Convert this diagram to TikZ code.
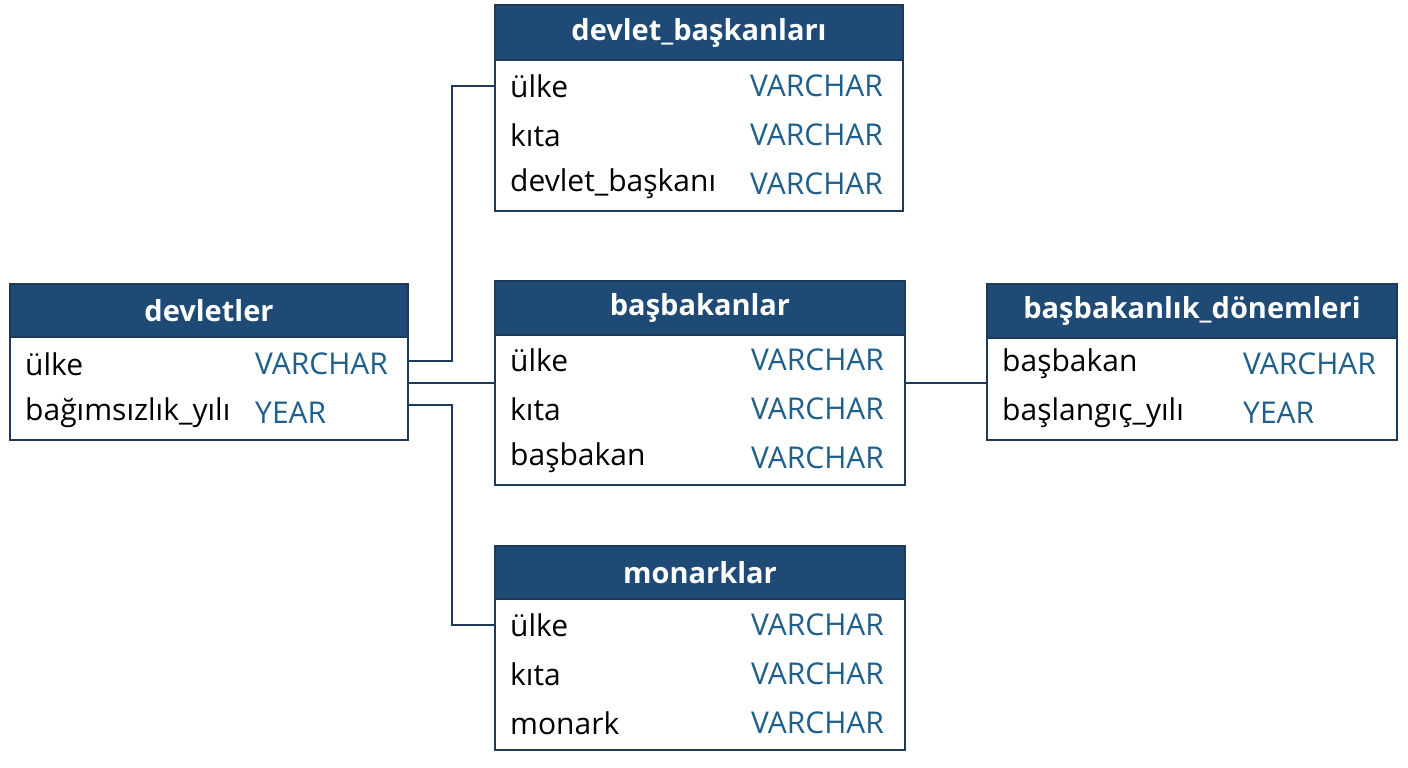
\documentclass[tikz,border=0pt]{standalone}
\usepackage{fontspec}
\setmainfont{Open Sans}
\usetikzlibrary{positioning}
\definecolor{hdrblue}{HTML}{1F4A75}
\definecolor{edgeblue}{HTML}{1E3A5A}
\definecolor{typeblue}{HTML}{1F5F8B}
\tikzset{
	hdr/.style={draw=edgeblue,line width=2.5pt,fill=hdrblue,text=white,
		font=\fontsize{29}{32}\selectfont\bfseries,inner sep=0pt},
	body/.style={draw=edgeblue,line width=2.5pt,fill=white,inner sep=0pt},
	fld/.style={anchor=west,inner sep=0pt,font=\fontsize{30}{33}\selectfont},
	typ/.style={fld,text=typeblue},
	link/.style={draw=edgeblue,line width=2.5pt}
}
\newcommand{\dbbox}[6]{% name, x1, y1, x2, yhdr, y2
	\path[body] (#2,#3) rectangle (#4,#6);
	\path[hdr] (#2,#3) rectangle (#4,#5);
	\coordinate (#1-nw) at (#2,#3);
	\coordinate (#1-se) at (#4,#6);
}
\begin{document}
\begin{tikzpicture}[x=1pt,y=-1pt]
	\useasboundingbox (0,0) rectangle (1408,768);
	% tables
	\dbbox{dbk}{495}{5}{903}{60}{211}
	\node[hdr,draw=none,fill=none] (dbk) at (699,33) {devlet\_başkanları};
	\node[fld] (dbk1) at (510,86) {ülke};
	\node[fld] (dbk2) at (510,135) {kıta};
	\node[fld] (dbk3) at (510,184) {devlet\_başkanı};
	\node[typ] (dbkt1) at (750,86) {VARCHAR};
	\node[typ] (dbkt2) at (750,135) {VARCHAR};
	\node[typ] (dbkt3) at (750,184) {VARCHAR};

	\dbbox{dev}{10}{284}{408}{337}{440}
	\node[hdr,draw=none,fill=none] (dev) at (209,311) {devletler};
	\node[fld] (dev1) at (25,364) {ülke};
	\node[fld] (dev2) at (25,413) {bağımsızlık\_yılı};
	\node[typ] (devt1) at (255,364) {VARCHAR};
	\node[typ] (devt2) at (255,413) {YEAR};

	\dbbox{bb}{495}{281}{905}{335}{485}
	\node[hdr,draw=none,fill=none] (bb) at (700,308) {başbakanlar};
	\node[fld] (bb1) at (510,360) {ülke};
	\node[fld] (bb2) at (510,409) {kıta};
	\node[fld] (bb3) at (510,458) {başbakan};
	\node[typ] (bbt1) at (751,360) {VARCHAR};
	\node[typ] (bbt2) at (751,409) {VARCHAR};
	\node[typ] (bbt3) at (751,458) {VARCHAR};

	\dbbox{bd}{987}{284}{1397}{338}{440}
	\node[hdr,draw=none,fill=none] (bd) at (1192,311) {başbakanlık\_dönemleri};
	\node[fld] (bd1) at (1002,364) {başbakan};
	\node[fld] (bd2) at (1002,413) {başlangıç\_yılı};
	\node[typ] (bdt1) at (1243,364) {VARCHAR};
	\node[typ] (bdt2) at (1243,413) {YEAR};

	\dbbox{mon}{495}{546}{905}{599}{750}
	\node[hdr,draw=none,fill=none] (mon) at (700,573) {monarklar};
	\node[fld] (mon1) at (510,625) {ülke};
	\node[fld] (mon2) at (510,674) {kıta};
	\node[fld] (mon3) at (510,723) {monark};
	\node[typ] (mont1) at (751,625) {VARCHAR};
	\node[typ] (mont2) at (751,674) {VARCHAR};
	\node[typ] (mont3) at (751,723) {VARCHAR};

	% connectors
	\coordinate (devA) at (408,361);
	\coordinate (devB) at (408,383);
	\coordinate (devC) at (408,405);
	\coordinate (dbkIn) at (495,86);
	\coordinate (bbIn) at (495,383);
	\coordinate (bbOut) at (905,383);
	\coordinate (bdIn) at (987,383);
	\coordinate (monIn) at (495,625);
	\draw[link] (devA) -- (452,361) -- (452,86) -- (dbkIn);
	\draw[link] (devB) -- (bbIn);
	\draw[link] (devC) -- (452,405) -- (452,625) -- (monIn);
	\draw[link] (bbOut) -- (bdIn);
\end{tikzpicture}
\end{document}
